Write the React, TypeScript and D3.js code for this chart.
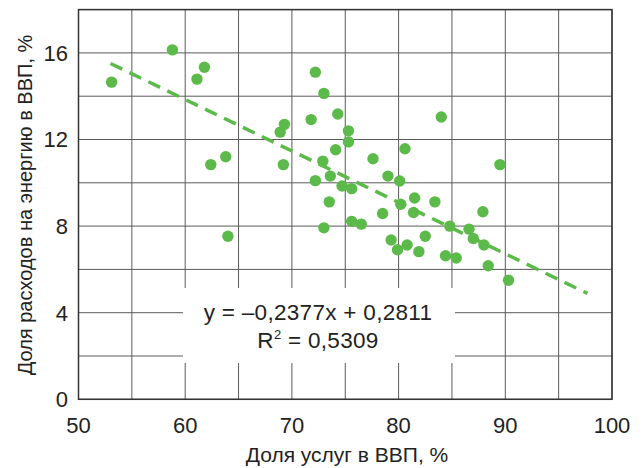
import React, { useRef, useEffect } from 'react';
import * as d3 from 'd3';

// Доля услуг в ВВП, % (x) и доля расходов на энергию в ВВП, % (y)
const services = [
  53.1, 58.8, 61.8, 61.1, 62.4, 63.8, 64.0, 68.9, 69.3, 69.2,
  71.8, 72.2, 72.2, 72.9, 73.0, 73.0, 73.6, 73.5, 74.1, 74.3,
  74.7, 75.3, 75.3, 75.6, 75.6, 76.5, 77.6, 78.5, 79.0, 79.3,
  79.9, 80.1, 80.2, 80.6, 80.8, 81.4, 81.5, 81.9, 82.5, 83.4,
  84.0, 84.4, 84.8, 85.4, 86.6, 87.0, 87.9, 88.0, 88.4, 89.5,
  90.3,
];
const energy = [
  14.65, 16.14, 15.34, 14.79, 10.84, 11.2, 7.53, 12.34, 12.7, 10.84,
  12.92, 15.11, 10.1, 11.0, 14.13, 7.92, 10.31, 9.12, 11.53, 13.18,
  9.85, 11.89, 12.4, 9.73, 8.22, 8.09, 11.11, 8.58, 10.31, 7.36,
  6.91, 10.08, 9.01, 11.57, 7.13, 8.63, 9.3, 6.82, 7.53, 9.12,
  13.04, 6.63, 8.0, 6.53, 7.86, 7.43, 8.66, 7.13, 6.17, 10.84,
  5.5,
];
// линия тренда (концы)
const trendX = [53, 97.7];
const trendY = [15.51, 4.89];

const xTicks = [50, 60, 70, 80, 90, 100];
const yTicks = [0, 4, 8, 12, 16];
const xGrid = d3.range(50, 101, 5);
const yGrid = d3.range(0, 19, 2);

const eqLine1 = 'y = –0,2377x + 0,2811';
const eqR = 'R';
const eqLine2 = ' = 0,5309';

const xTitle = 'Доля услуг в ВВП, %';
const yTitle = 'Доля расходов на энергию в ВВП, %';

const W = 644;
const H = 468;
const GREEN = '#5cba4a';
const FONT = '"Liberation Sans", Arial, sans-serif';

const Chart = () => {
  const svgRef = useRef<SVGSVGElement>(null);

  useEffect(() => {
    const svg = d3.select(svgRef.current);
    svg.selectAll('*').remove();

    const x = d3.scaleLinear().domain([50, 100]).range([78.5, 612]);
    const y = d3.scaleLinear().domain([0, 18]).range([399.3, 9.6]);

    // сетка
    const grid = svg.append('g').attr('stroke', '#5a5a5a').attr('stroke-width', 1);
    grid.selectAll('.vx')
      .data(xGrid)
      .enter()
      .append('line')
      .attr('x1', (d) => x(d))
      .attr('x2', (d) => x(d))
      .attr('y1', y(0))
      .attr('y2', y(18));
    grid.selectAll('.hy')
      .data(yGrid)
      .enter()
      .append('line')
      .attr('x1', x(50))
      .attr('x2', x(100))
      .attr('y1', (d) => y(d))
      .attr('y2', (d) => y(d));

    // подложка для уравнения
    svg.append('rect')
      .attr('x', 183)
      .attr('y', 288)
      .attr('width', 272)
      .attr('height', 75)
      .attr('fill', '#fff');

    // точки
    svg.append('g')
      .selectAll('circle')
      .data(services.map((s, i) => [s, energy[i]]))
      .enter()
      .append('circle')
      .attr('cx', (d) => x(d[0]))
      .attr('cy', (d) => y(d[1]))
      .attr('r', 5.7)
      .attr('fill', GREEN);

    // тренд
    const line = d3.line<number>()
      .x((d) => x(d))
      .y((d, i) => y(trendY[i]));
    svg.append('path')
      .attr('d', line(trendX))
      .attr('fill', 'none')
      .attr('stroke', GREEN)
      .attr('stroke-width', 3.5)
      .attr('stroke-dasharray', '13 8');

    // рамка
    svg.append('rect')
      .attr('x', x(50))
      .attr('y', y(18))
      .attr('width', x(100) - x(50))
      .attr('height', y(0) - y(18))
      .attr('fill', 'none')
      .attr('stroke', '#333')
      .attr('stroke-width', 1.5);

    // подписи осей
    svg.append('g')
      .selectAll('text')
      .data(xTicks)
      .enter()
      .append('text')
      .attr('x', (d) => x(d))
      .attr('y', 433)
      .attr('text-anchor', 'middle')
      .attr('font-size', 22)
      .attr('fill', '#222')
      .text((d) => d);

    svg.append('g')
      .selectAll('text')
      .data(yTicks)
      .enter()
      .append('text')
      .attr('x', 68)
      .attr('y', (d) => y(d))
      .attr('dy', '0.36em')
      .attr('text-anchor', 'end')
      .attr('font-size', 22)
      .attr('fill', '#222')
      .text((d) => d);

    svg.append('text')
      .attr('x', 347)
      .attr('y', 462)
      .attr('text-anchor', 'middle')
      .attr('font-size', 21)
      .attr('fill', '#222')
      .text(xTitle);

    svg.append('text')
      .attr('transform', 'translate(32,205) rotate(-90)')
      .attr('text-anchor', 'middle')
      .attr('font-size', 20)
      .attr('fill', '#222')
      .text(yTitle);

    // уравнение
    svg.append('text')
      .attr('x', 318)
      .attr('y', 320)
      .attr('text-anchor', 'middle')
      .attr('font-size', 22.5)
      .attr('letter-spacing', 0.3)
      .attr('fill', '#222')
      .text(eqLine1);

    const r2 = svg.append('text')
      .attr('x', 318)
      .attr('y', 348)
      .attr('text-anchor', 'middle')
      .attr('font-size', 22.5)
      .attr('letter-spacing', 0.3)
      .attr('fill', '#222');
    r2.append('tspan').text(eqR);
    r2.append('tspan').attr('dy', -9).attr('font-size', 13).text('2');
    r2.append('tspan').attr('dy', 9).text(eqLine2);
  }, []);

  return (
    <svg
      ref={svgRef}
      width={W}
      height={H}
      style={{ position: 'absolute', left: 0, top: 0, fontFamily: FONT, background: '#fff' }}
    ></svg>
  );
};

export default function App() {
  return <Chart />;
}
